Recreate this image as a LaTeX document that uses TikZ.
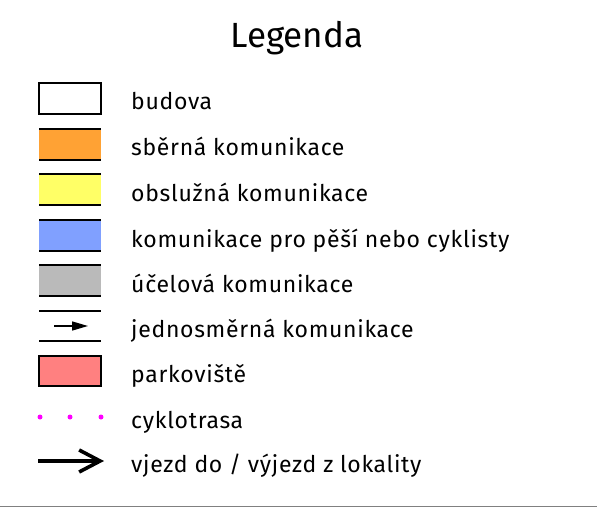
\documentclass[tikz,border=0pt]{standalone}
\usepackage{fontspec}
\setmainfont{Fira Sans}
\usetikzlibrary{arrows.meta}

\definecolor{sberna}{RGB}{255,162,52}
\definecolor{obsluzna}{RGB}{255,255,102}
\definecolor{pesi}{RGB}{128,160,255}
\definecolor{ucelova}{RGB}{186,186,186}
\definecolor{parking}{RGB}{255,128,128}
\definecolor{cyklo}{RGB}{255,0,255}

\tikzset{
    lbl/.style = {anchor=base west, inner sep=0pt, font=\fontsize{23}{23}\selectfont\addfontfeatures{LetterSpace=3}},
    edgeline/.style = {line width=1.6pt},
}

\begin{document}
\begin{tikzpicture}[x = 1pt, y = -1pt]
    \useasboundingbox (0, 0) rectangle (597, 508);

    \node [anchor=base, inner sep=0pt, font=\fontsize{35}{35}\selectfont] (title) at (297, 48) {Legenda};

    % budova
    \draw [line width=2pt] (39, 83) rectangle (101, 114);
    % pozemni komunikace
    \fill [sberna] (39, 129) rectangle (101, 160);
    \draw [edgeline] (39, 129) -- (101, 129) (39, 160) -- (101, 160);
    \fill [obsluzna] (39, 174) rectangle (101, 205);
    \draw [edgeline] (39, 174) -- (101, 174) (39, 205) -- (101, 205);
    \fill [pesi] (39, 220) rectangle (101, 251);
    \draw [edgeline] (39, 220) -- (101, 220) (39, 251) -- (101, 251);
    \fill [ucelova] (39, 265) rectangle (101, 296);
    \draw [edgeline] (39, 265) -- (101, 265) (39, 296) -- (101, 296);
    % jednosmerna
    \draw [edgeline] (39, 311) -- (101, 311) (39, 341) -- (101, 341);
    \coordinate (jA) at (54, 326);
    \coordinate (jB) at (88, 326);
    \draw [line width=1.5pt, -{Triangle[length=16pt, width=9pt]}] (jA) -- (jB);
    % parkoviste
    \draw [line width=1.6pt, fill=parking] (39, 356) rectangle (101, 386);
    % cyklotrasa
    \fill [cyklo] (40, 417) circle (2.5pt) (70, 417) circle (2.5pt) (101, 417) circle (2.5pt);
    % vjezd
    \coordinate (vA) at (38, 461);
    \coordinate (vB) at (104, 461);
    \draw [line width=3.6pt, -{Straight Barb[length=21pt, width=22pt]}] (vA) -- (vB);

    \node [lbl] (budova) at (131, 110) {budova};
    \node [lbl] (sberna) at (131, 156) {sběrná komunikace};
    \node [lbl] (obsluzna) at (131, 201) {obslužná komunikace};
    \node [lbl] (pesi) at (131, 247) {komunikace pro pěší nebo cyklisty};
    \node [lbl] (ucelova) at (131, 292) {účelová komunikace};
    \node [lbl] (jedn) at (131, 337) {jednosměrná komunikace};
    \node [lbl] (park) at (131, 382) {parkoviště};
    \node [lbl] (cyklo) at (131, 428) {cyklotrasa};
    \node [lbl] (vjezd) at (131, 472) {vjezd do / výjezd z lokality};

    \draw [gray, line width=1.5pt] (0, 506.5) -- (597, 506.5);
\end{tikzpicture}
\end{document}
